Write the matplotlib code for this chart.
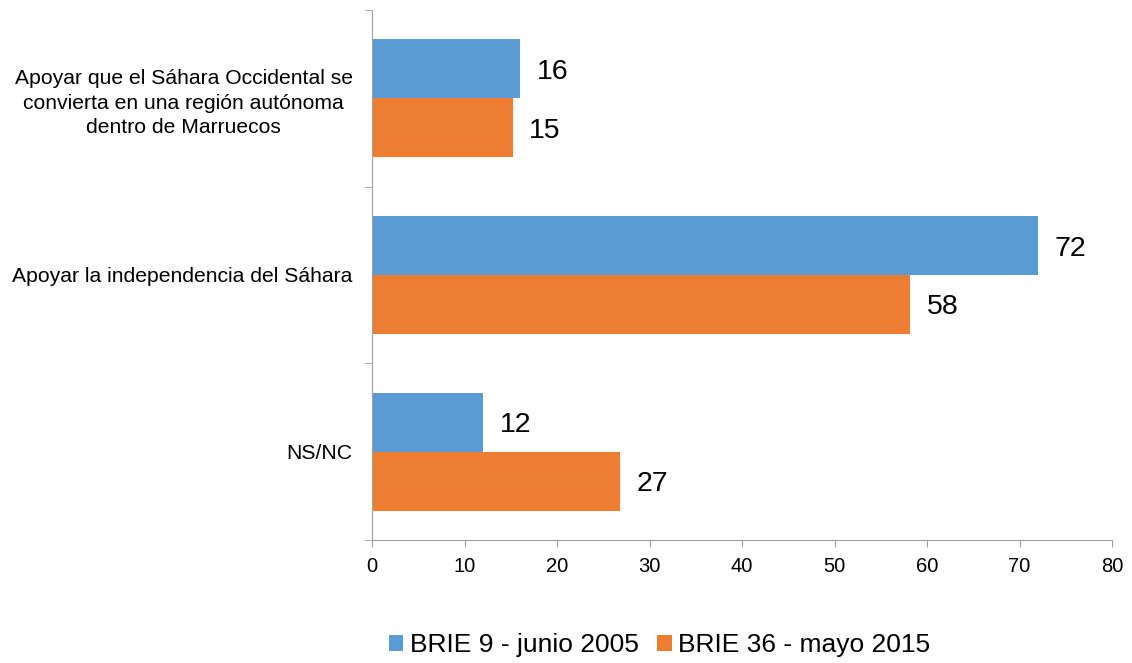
import matplotlib
matplotlib.use("Agg")
import matplotlib.pyplot as plt
import numpy as np

categories = [
    "Apoyar que el Sáhara Occidental se\nconvierta en una región autónoma\ndentro de Marruecos",
    "Apoyar la independencia del Sáhara",
    "NS/NC",
]
series_names = ["BRIE 9 - junio 2005", "BRIE 36 - mayo 2015"]
brie9 = [16, 72, 12]
brie36 = [15.2, 58.2, 26.8]
labels9 = ["16", "72", "12"]
labels36 = ["15", "58", "27"]
xticks = [0, 10, 20, 30, 40, 50, 60, 70, 80]

plt.rcParams['font.family'] = ['Liberation Sans', 'DejaVu Sans']

fig = plt.figure(figsize=(11.32, 6.63), dpi=100)
ax = fig.add_axes([372/1132, 1-540/663, (1112-372)/1132, (540-10)/663])

y = np.arange(len(categories))
h = 1/3
blue = "#5B9BD5"
orange = "#ED7D31"
b1 = ax.barh(y - h/2, brie9, height=h, color=blue, label=series_names[0])
b2 = ax.barh(y + h/2, brie36, height=h, color=orange, label=series_names[1])

for bars, labs in ((b1, labels9), (b2, labels36)):
    for bar, lab in zip(bars, labs):
        ax.text(bar.get_width() + 1.8, bar.get_y() + bar.get_height()/2, lab,
                va='center_baseline', ha='left', fontsize=20.5, color='black')

ax.set_xlim(0, 80)
ax.set_ylim(2.5, -0.5)
ax.set_xticks(xticks)
ax.set_xticklabels([str(t) for t in xticks], fontsize=14.5)
ax.set_yticks(y)
ax.set_yticklabels(categories, fontsize=15.2, ha='right', multialignment='center',
                   linespacing=1.38)
ax.tick_params(axis='y', which='major', length=0, pad=14)
ax.set_yticks([-0.5, 0.5, 1.5, 2.5], minor=True)
ax.tick_params(axis='y', which='minor', length=5, color='#A0A0A0', direction='out')
ax.tick_params(axis='x', length=5, color='#A0A0A0', direction='out', pad=7)
for s in ('top', 'right'):
    ax.spines[s].set_visible(False)
for s in ('left', 'bottom'):
    ax.spines[s].set_color('#A0A0A0')

fig.legend(handles=[b1, b2], labels=series_names, loc='center', bbox_to_anchor=(0.5826, 1-645/663),
           ncol=2, frameon=False, fontsize=19, handlelength=0.55, handleheight=0.55,
           handletextpad=0.25, columnspacing=0.7)

fig.savefig("out.png", dpi=100)
